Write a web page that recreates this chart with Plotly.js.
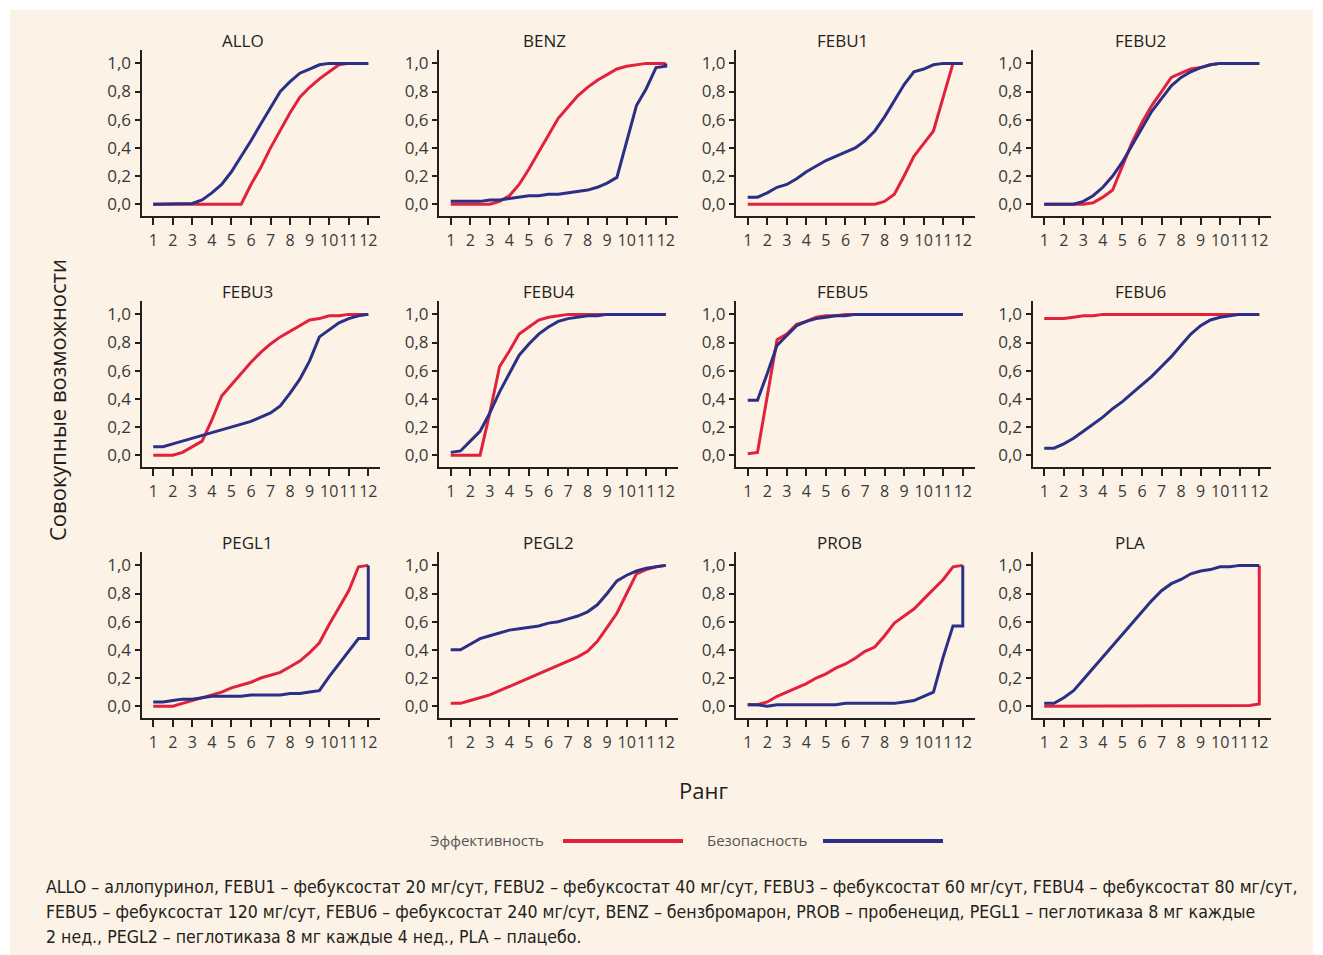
<!DOCTYPE html>
<html>
<head>
<meta charset="utf-8">
<script src="https://cdn.plot.ly/plotly-3.0.1.min.js"></script>
<style>
html,body{margin:0;padding:0;background:#ffffff;}
#chart{width:1323px;height:955px;}
</style>
</head>
<body>
<div id="chart"></div>
<script>
// Rank grid (x values); the duplicated 12 allows the final vertical step
var rank = [1,1.5,2,2.5,3,3.5,4,4.5,5,5.5,6,6.5,7,7.5,8,8.5,9,9.5,10,10.5,11,11.5,12,12];
var xTicks = [1,2,3,4,5,6,7,8,9,10,11,12];
var yTicks = [0,0.2,0.4,0.6,0.8,1.0];

var drugs = ["ALLO","BENZ","FEBU1","FEBU2","FEBU3","FEBU4","FEBU5","FEBU6","PEGL1","PEGL2","PROB","PLA"];

// Эффективность (efficacy) cumulative probabilities
var allo_eff  = [0,0,0,0,0,0,0,0,0,0,0.14,0.26,0.40,0.53,0.65,0.76,0.83,0.89,0.94,0.99,1,1,1,1];
var benz_eff  = [0,0,0,0,0,0.02,0.06,0.14,0.25,0.37,0.49,0.61,0.69,0.77,0.83,0.88,0.92,0.96,0.98,0.99,1,1,1,1];
var febu1_eff = [0,0,0,0,0,0,0,0,0,0,0,0,0,0,0.02,0.07,0.20,0.34,0.43,0.52,0.76,1,1,1];
var febu2_eff = [0,0,0,0,0,0.01,0.05,0.10,0.27,0.44,0.58,0.70,0.80,0.90,0.93,0.96,0.97,0.99,1,1,1,1,1,1];
var febu3_eff = [0,0,0,0.02,0.06,0.10,0.25,0.42,0.50,0.58,0.66,0.73,0.79,0.84,0.88,0.92,0.96,0.97,0.99,0.99,1,1,1,1];
var febu4_eff = [0,0,0,0,0.30,0.63,0.74,0.86,0.91,0.96,0.98,0.99,1,1,1,1,1,1,1,1,1,1,1,1];
var febu5_eff = [0.01,0.02,0.42,0.82,0.86,0.93,0.95,0.98,0.99,0.99,1,1,1,1,1,1,1,1,1,1,1,1,1,1];
var febu6_eff = [0.97,0.97,0.97,0.98,0.99,0.99,1,1,1,1,1,1,1,1,1,1,1,1,1,1,1,1,1,1];
var pegl1_eff = [0,0,0,0.02,0.04,0.06,0.08,0.10,0.13,0.15,0.17,0.20,0.22,0.24,0.28,0.32,0.38,0.45,0.58,0.70,0.82,0.99,1,1];
var pegl2_eff = [0.02,0.02,0.04,0.06,0.08,0.11,0.14,0.17,0.20,0.23,0.26,0.29,0.32,0.35,0.39,0.46,0.56,0.66,0.80,0.94,0.97,0.99,1,1];
var prob_eff  = [0.01,0.01,0.03,0.07,0.10,0.13,0.16,0.20,0.23,0.27,0.30,0.34,0.39,0.42,0.50,0.59,0.64,0.69,0.76,0.83,0.90,0.99,1,1];
var pla_eff   = [0,0,0,0,0,0,0,0,0,0,0,0,0,0,0,0,0,0,0,0,0,0.005,0.015,1];

// Безопасность (safety) cumulative probabilities
var allo_saf  = [0,0,0,0,0.005,0.03,0.08,0.14,0.23,0.34,0.45,0.57,0.68,0.80,0.87,0.93,0.96,0.99,1,1,1,1,1,1];
var benz_saf  = [0.02,0.02,0.02,0.02,0.03,0.03,0.04,0.05,0.06,0.06,0.07,0.07,0.08,0.09,0.10,0.12,0.15,0.19,0.45,0.70,0.82,0.97,0.98,1];
var febu1_saf = [0.05,0.05,0.08,0.12,0.14,0.18,0.23,0.27,0.31,0.34,0.37,0.40,0.45,0.52,0.62,0.74,0.85,0.94,0.96,0.99,1,1,1,1];
var febu2_saf = [0,0,0,0,0.02,0.06,0.12,0.20,0.30,0.42,0.54,0.66,0.75,0.84,0.90,0.94,0.97,0.99,1,1,1,1,1,1];
var febu3_saf = [0.06,0.06,0.08,0.10,0.12,0.14,0.16,0.18,0.20,0.22,0.24,0.27,0.30,0.35,0.44,0.54,0.67,0.84,0.89,0.94,0.97,0.99,1,1];
var febu4_saf = [0.02,0.03,0.10,0.17,0.30,0.45,0.58,0.71,0.79,0.86,0.91,0.95,0.97,0.98,0.99,0.99,1,1,1,1,1,1,1,1];
var febu5_saf = [0.39,0.39,0.58,0.78,0.85,0.92,0.95,0.97,0.98,0.99,0.99,1,1,1,1,1,1,1,1,1,1,1,1,1];
var febu6_saf = [0.05,0.05,0.08,0.12,0.17,0.22,0.27,0.33,0.38,0.44,0.50,0.56,0.63,0.70,0.78,0.86,0.92,0.96,0.98,0.99,1,1,1,1];
var pegl1_saf = [0.03,0.03,0.04,0.05,0.05,0.06,0.07,0.07,0.07,0.07,0.08,0.08,0.08,0.08,0.09,0.09,0.10,0.11,0.21,0.30,0.39,0.48,0.48,1];
var pegl2_saf = [0.40,0.40,0.44,0.48,0.50,0.52,0.54,0.55,0.56,0.57,0.59,0.60,0.62,0.64,0.67,0.72,0.80,0.89,0.93,0.96,0.98,0.99,1,1];
var prob_saf  = [0.01,0.01,0,0.01,0.01,0.01,0.01,0.01,0.01,0.01,0.02,0.02,0.02,0.02,0.02,0.02,0.03,0.04,0.07,0.10,0.35,0.57,0.57,1];
var pla_saf   = [0.02,0.02,0.06,0.11,0.19,0.27,0.35,0.43,0.51,0.59,0.67,0.75,0.82,0.87,0.90,0.94,0.96,0.97,0.99,0.99,1,1,1,1];

var effSeries = [allo_eff,benz_eff,febu1_eff,febu2_eff,febu3_eff,febu4_eff,febu5_eff,febu6_eff,pegl1_eff,pegl2_eff,prob_eff,pla_eff];
var safSeries = [allo_saf,benz_saf,febu1_saf,febu2_saf,febu3_saf,febu4_saf,febu5_saf,febu6_saf,pegl1_saf,pegl2_saf,prob_saf,pla_saf];

var legendNames = ["Эффективность","Безопасность"];
var yTitle = "Совокупные возможности";
var xTitle = "Ранг";
var caption = [
  "ALLO – аллопуринол, FEBU1 – фебуксостат 20 мг/сут, FEBU2 – фебуксостат 40 мг/сут, FEBU3 – фебуксостат 60 мг/сут, FEBU4 – фебуксостат 80 мг/сут,",
  "FEBU5 – фебуксостат 120 мг/сут, FEBU6 – фебуксостат 240 мг/сут, BENZ – бензбромарон, PROB – пробенецид, PEGL1 – пеглотиказа 8 мг каждые",
  "2 нед., PEGL2 – пеглотиказа 8 мг каждые 4 нед., PLA – плацебо."
];

// ---- layout helpers (pixel -> paper) ----
var W = 1323, H = 955;
function fx(p){ return p / W; }
function fy(p){ return 1 - p / H; }

var RED = "#e2213d", BLUE = "#2b2f86";
var BG = "#fcf2e6";
var AX = "#231f20";
var FAM = "Open Sans, Noto Sans, sans-serif";
var CAPFAM = "DejaVu Sans Condensed, Liberation Sans Narrow, DejaVu Sans, sans-serif";
var tickFont = {family: FAM, size: 16, color: "#3a3a3a"};

// fit caption font size so that its first line spans ~1252 px
var capSize = 19;
(function(){
  var cv = document.createElement("canvas").getContext("2d");
  try { cv.fontStretch = "condensed"; } catch(e) {}
  cv.font = "19px " + CAPFAM;
  var w = cv.measureText(caption[0]).width;
  if (w > 0) capSize = Math.min(20, 19 * 1252 / w);
})();

var colLeft = [141.5, 439, 736, 1032.5];
var colWidth = 238.5;
var rowTop = [50, 301, 552];
var rowHeight = 166;
var titleLeft = [220, 521, 815, 1113];
var titleY = [40, 292, 542];

var traces = [];
var layout = {
  width: W, height: H,
  margin: {l:0, r:0, t:0, b:0},
  paper_bgcolor: "#ffffff",
  plot_bgcolor: "rgba(0,0,0,0)",
  separators: ", ",
  showlegend: false,
  font: {family: FAM, color: "#231f20"},
  shapes: [],
  annotations: []
};

layout.shapes.push({type:"rect", xref:"paper", yref:"paper", x0:fx(10), x1:fx(1313), y0:fy(955), y1:fy(10),
  fillcolor: BG, line:{width:0}, layer:"below"});

for (var i = 0; i < drugs.length; i++) {
  var r = Math.floor(i / 4), c = i % 4;
  var n = i + 1;
  var xa = n === 1 ? "x" : "x" + n;
  var ya = n === 1 ? "y" : "y" + n;
  var xk = n === 1 ? "xaxis" : "xaxis" + n;
  var yk = n === 1 ? "yaxis" : "yaxis" + n;

  traces.push({x: rank, y: effSeries[i], xaxis: xa, yaxis: ya, type: "scatter", mode: "lines",
    name: legendNames[0], line: {color: RED, width: 3}, hoverinfo: "x+y"});
  traces.push({x: rank, y: safSeries[i], xaxis: xa, yaxis: ya, type: "scatter", mode: "lines",
    name: legendNames[1], line: {color: BLUE, width: 3}, hoverinfo: "x+y"});

  layout[xk] = {
    domain: [fx(colLeft[c]), fx(colLeft[c] + colWidth)],
    anchor: ya, range: [0.4, 12.6], tickmode: "array", tickvals: xTicks,
    ticktext: xTicks.map(String), tickangle: 0,
    showline: true, linecolor: AX, linewidth: 2, ticks: "outside", ticklen: 7, tickwidth: 2, tickcolor: AX,
    showgrid: false, zeroline: false, tickfont: tickFont, ticklabelstandoff: 2, fixedrange: true
  };
  layout[yk] = {
    domain: [fy(rowTop[r] + rowHeight), fy(rowTop[r])],
    anchor: xa, range: [-0.084, 1.095], tickmode: "array", tickvals: yTicks, tickformat: ".1f",
    showline: true, linecolor: AX, linewidth: 2, ticks: "outside", ticklen: 5, tickwidth: 2, tickcolor: AX,
    showgrid: false, zeroline: false, tickfont: {family: FAM, size: 17, color: "#3a3a3a"}, fixedrange: true
  };

  layout.annotations.push({text: drugs[i], xref: "paper", yref: "paper", x: fx(titleLeft[c]), y: fy(titleY[r]),
    xanchor: "left", yanchor: "middle", showarrow: false,
    font: {family: FAM, size: 17, color: "#231f20"}});
}

// axis titles
layout.annotations.push({text: yTitle, xref:"paper", yref:"paper", x: fx(57), y: fy(400), textangle: -90,
  xanchor:"center", yanchor:"middle", showarrow:false,
  font:{family: FAM, size:22, color:"#231f20"}});
layout.annotations.push({text: xTitle, xref:"paper", yref:"paper", x: fx(703), y: fy(790),
  xanchor:"center", yanchor:"middle", showarrow:false,
  font:{family: FAM, size:22, color:"#231f20"}});

// legend (text followed by a line sample)
layout.annotations.push({text: legendNames[0], xref:"paper", yref:"paper", x: fx(546), y: fy(840),
  xanchor:"right", yanchor:"middle", showarrow:false,
  font:{family: FAM, size:15, color:"#555555"}});
layout.shapes.push({type:"line", xref:"paper", yref:"paper", x0:fx(563), x1:fx(683), y0:fy(841), y1:fy(841),
  line:{color:RED, width:4}});
layout.annotations.push({text: legendNames[1], xref:"paper", yref:"paper", x: fx(809), y: fy(840),
  xanchor:"right", yanchor:"middle", showarrow:false,
  font:{family: FAM, size:15, color:"#555555"}});
layout.shapes.push({type:"line", xref:"paper", yref:"paper", x0:fx(823), x1:fx(943), y0:fy(841), y1:fy(841),
  line:{color:BLUE, width:4}});

// caption
var capY = [887, 912, 937];
for (var k = 0; k < caption.length; k++) {
  layout.annotations.push({text: caption[k], xref:"paper", yref:"paper", x: fx(44), y: fy(capY[k]),
    xanchor:"left", yanchor:"middle", showarrow:false,
    font:{family: CAPFAM, size: capSize, stretch: "condensed", color:"#231f20"}});
}

Plotly.newPlot("chart", traces, layout, {displayModeBar: false, staticPlot: true});
</script>
</body>
</html>
